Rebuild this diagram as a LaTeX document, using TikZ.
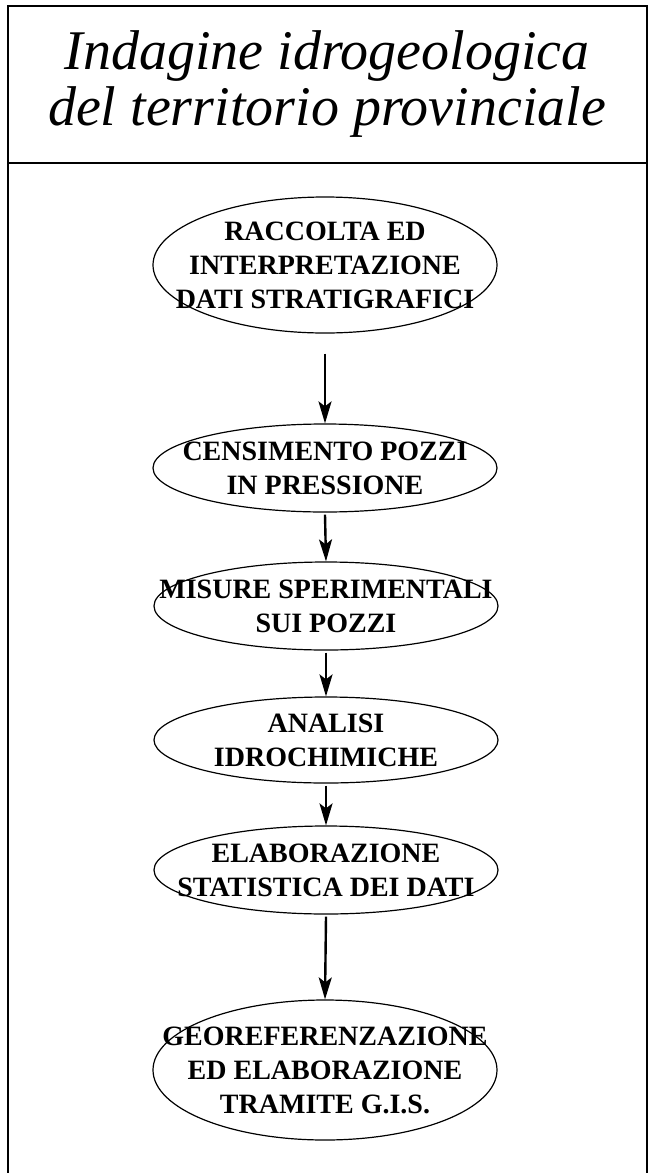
\documentclass[tikz,border=0pt]{standalone}
\usepackage{fontspec}
\setmainfont{Liberation Serif}
\usetikzlibrary{shapes.geometric,arrows.meta}
\tikzset{
  fase/.style={ellipse,draw,line width=0.6pt,inner sep=0pt,minimum width=172pt},
  testo/.style={align=center,inner sep=0pt,font=\fontsize{14}{17}\selectfont\bfseries},
  freccia/.style={-{Stealth[length=11pt,width=6.5pt,inset=2.5pt]},line width=1.2pt}
}
\begin{document}
\begin{tikzpicture}[x=0.5pt,y=-0.5pt]
      \useasboundingbox (0,0) rectangle (651,1173);
      \draw[line width=1.2pt] (8,1180) -- (8,6) -- (647,6) -- (647,1180);
      \draw[line width=1.2pt] (8,163) -- (647,163);
      \node[align=center,font=\fontsize{28}{28}\selectfont\itshape] (titolo) at (327,84)
        {Indagine idrogeologica\\del territorio provinciale};
      \draw
        (325,265) node[fase,minimum height=68pt,label={[testo]center:RACCOLTA ED\\INTERPRETAZIONE\\DATI STRATIGRAFICI}] (1){}
        (325,468) node[fase,minimum height=44pt,label={[testo]center:CENSIMENTO POZZI\\IN PRESSIONE}] (2){}
        (326,606) node[fase,minimum height=44pt,label={[testo]center:MISURE SPERIMENTALI\\SUI POZZI}] (3){}
        (326,740) node[fase,minimum height=43pt,label={[testo]center:ANALISI\\IDROCHIMICHE}] (4){}
        (326,870) node[fase,minimum height=44pt,label={[testo]center:ELABORAZIONE\\STATISTICA DEI DATI}] (5){}
        (325,1070) node[fase,minimum height=70pt,label={[testo]center:GEOREFERENZAZIONE\\ED ELABORAZIONE\\TRAMITE G.I.S.}] (6){};
      \begin{scope}[freccia]
        \draw ([yshift=-10pt]1.south) to (2.north);
        \draw ([yshift=-1pt]2.south) to (3.north);
        \draw ([yshift=-1pt]3.south) to (4.north);
        \draw ([yshift=-1pt]4.south) to (5.north);
        \draw ([yshift=-1pt]5.south) to (6.north);
      \end{scope}
    \end{tikzpicture}
\end{document}
